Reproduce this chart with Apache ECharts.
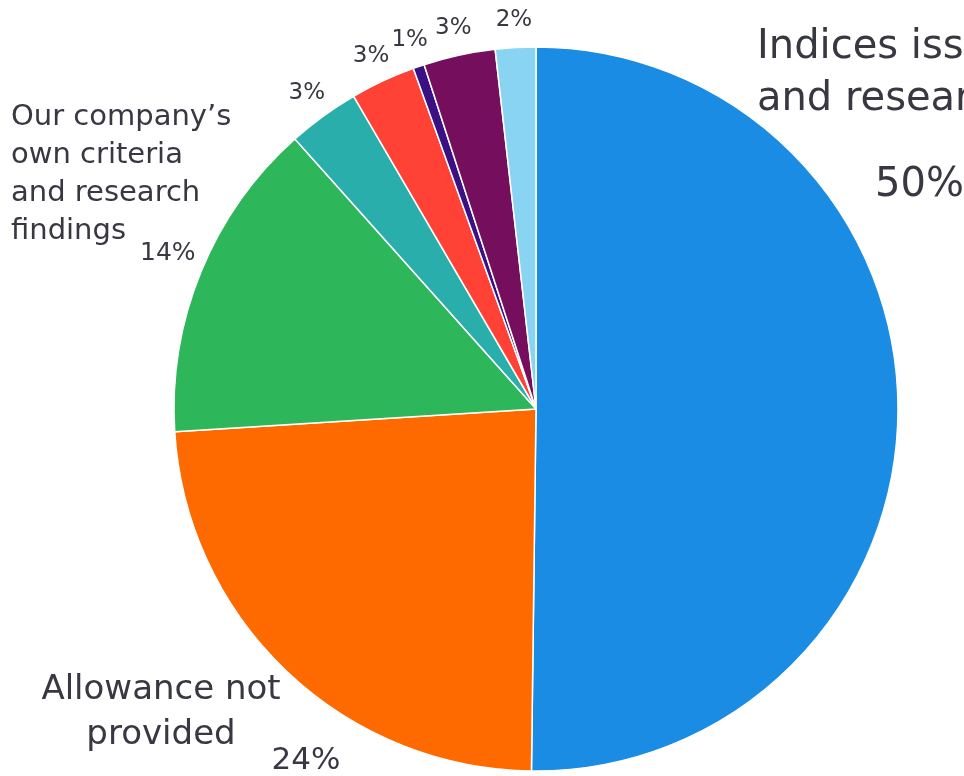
<!DOCTYPE html>
<html>
<head>
<meta charset="utf-8">
<script src="https://cdn.jsdelivr.net/npm/echarts@6/dist/echarts.min.js"></script>
<style>
  html, body { margin: 0; padding: 0; background: #ffffff; }
  #chart { width: 964px; height: 776px; }
</style>
</head>
<body>
<div id="chart"></div>
<script>
// Sources used to set allowance levels (share of respondents, %)
const categories = [
  'Indices issued by government\nand research institutions',
  'Allowance not\nprovided',
  'Our company\u2019s\nown criteria\nand research\nfindings',
  'Industry association guidance',
  'Consultant recommendations',
  'Collective agreement',
  'Other criteria',
  'No answer'
];
const shares = [50.2, 23.8, 14.4, 3.2, 2.9, 0.5, 3.2, 1.8];
const sliceColors = ['#1b8ce3', '#ff6a00', '#2eb65a', '#29aeab', '#ff4136', '#3b1083', '#750f5d', '#89d3f3'];

const TEXT = '#383842';
const FONT = 'DejaVu Sans';
const CENTER = [536, 409];
const RADIUS = 362;

const pct = v => Math.round(v) + '%';

// Name + percentage block for the three large slices, percentage only for the rest
function labelText(i) {
  const p = pct(shares[i]);
  if (i < 3) {
    const lines = categories[i].split('\n').map(s => '{n' + i + '|' + s + '}');
    return lines.join('\n') + '\n{p' + i + '|' + p + '}';
  }
  return '{s|' + p + '}';
}

const base = { fontFamily: FONT, fontWeight: 'normal', color: TEXT };
const rich = {
  n0: Object.assign({}, base, { fontSize: 40, lineHeight: 52 }),
  p0: Object.assign({}, base, { fontSize: 40, lineHeight: 120, padding: [0, 0, 0, 118] }),
  n1: Object.assign({}, base, { fontSize: 34, lineHeight: 45 }),
  p1: Object.assign({}, base, { fontSize: 31, lineHeight: 5, padding: [0, 0, 0, 290] }),
  n2: Object.assign({}, base, { fontSize: 29, lineHeight: 38 }),
  p2: Object.assign({}, base, { fontSize: 25, lineHeight: 6, padding: [0, 0, 0, 129] }),
  s:  Object.assign({}, base, { fontSize: 23 })
};

// Anchors of the three named label blocks
const blockAnchors = {
  0: { x: 757, y: 22, align: 'left' },
  1: { x: 161, y: 668, align: 'center' },
  2: { x: 11, y: 98, align: 'left' }
};
const SMALL_LABEL_GAP = 28;

const total = shares.reduce((a, b) => a + b, 0);
const midAngles = [];
(function () {
  let acc = 0;
  shares.forEach(v => {
    midAngles.push((acc + v / 2) / total * Math.PI * 2);
    acc += v;
  });
})();

const chart = echarts.init(document.getElementById('chart'), null, { renderer: 'canvas' });
chart.setOption({
  backgroundColor: '#ffffff',
  animation: false,
  series: [{
    type: 'pie',
    center: CENTER,
    radius: RADIUS,
    startAngle: 90,
    clockwise: true,
    avoidLabelOverlap: false,
    itemStyle: { borderColor: '#ffffff', borderWidth: 1.5 },
    label: {
      show: true,
      position: 'outside',
      formatter: p => labelText(p.dataIndex),
      rich: rich
    },
    labelLine: { show: false },
    emphasis: { disabled: true },
    labelLayout: function (params) {
      const i = params.dataIndex;
      if (blockAnchors[i]) {
        const a = blockAnchors[i];
        return { x: a.x, y: a.y, align: a.align, verticalAlign: 'top' };
      }
      const r = RADIUS + SMALL_LABEL_GAP;
      return {
        x: CENTER[0] + r * Math.sin(midAngles[i]),
        y: CENTER[1] - r * Math.cos(midAngles[i]),
        align: 'center',
        verticalAlign: 'middle'
      };
    },
    data: categories.map((name, i) => ({
      name: name,
      value: shares[i],
      itemStyle: { color: sliceColors[i] }
    }))
  }]
});
</script>
</body>
</html>
